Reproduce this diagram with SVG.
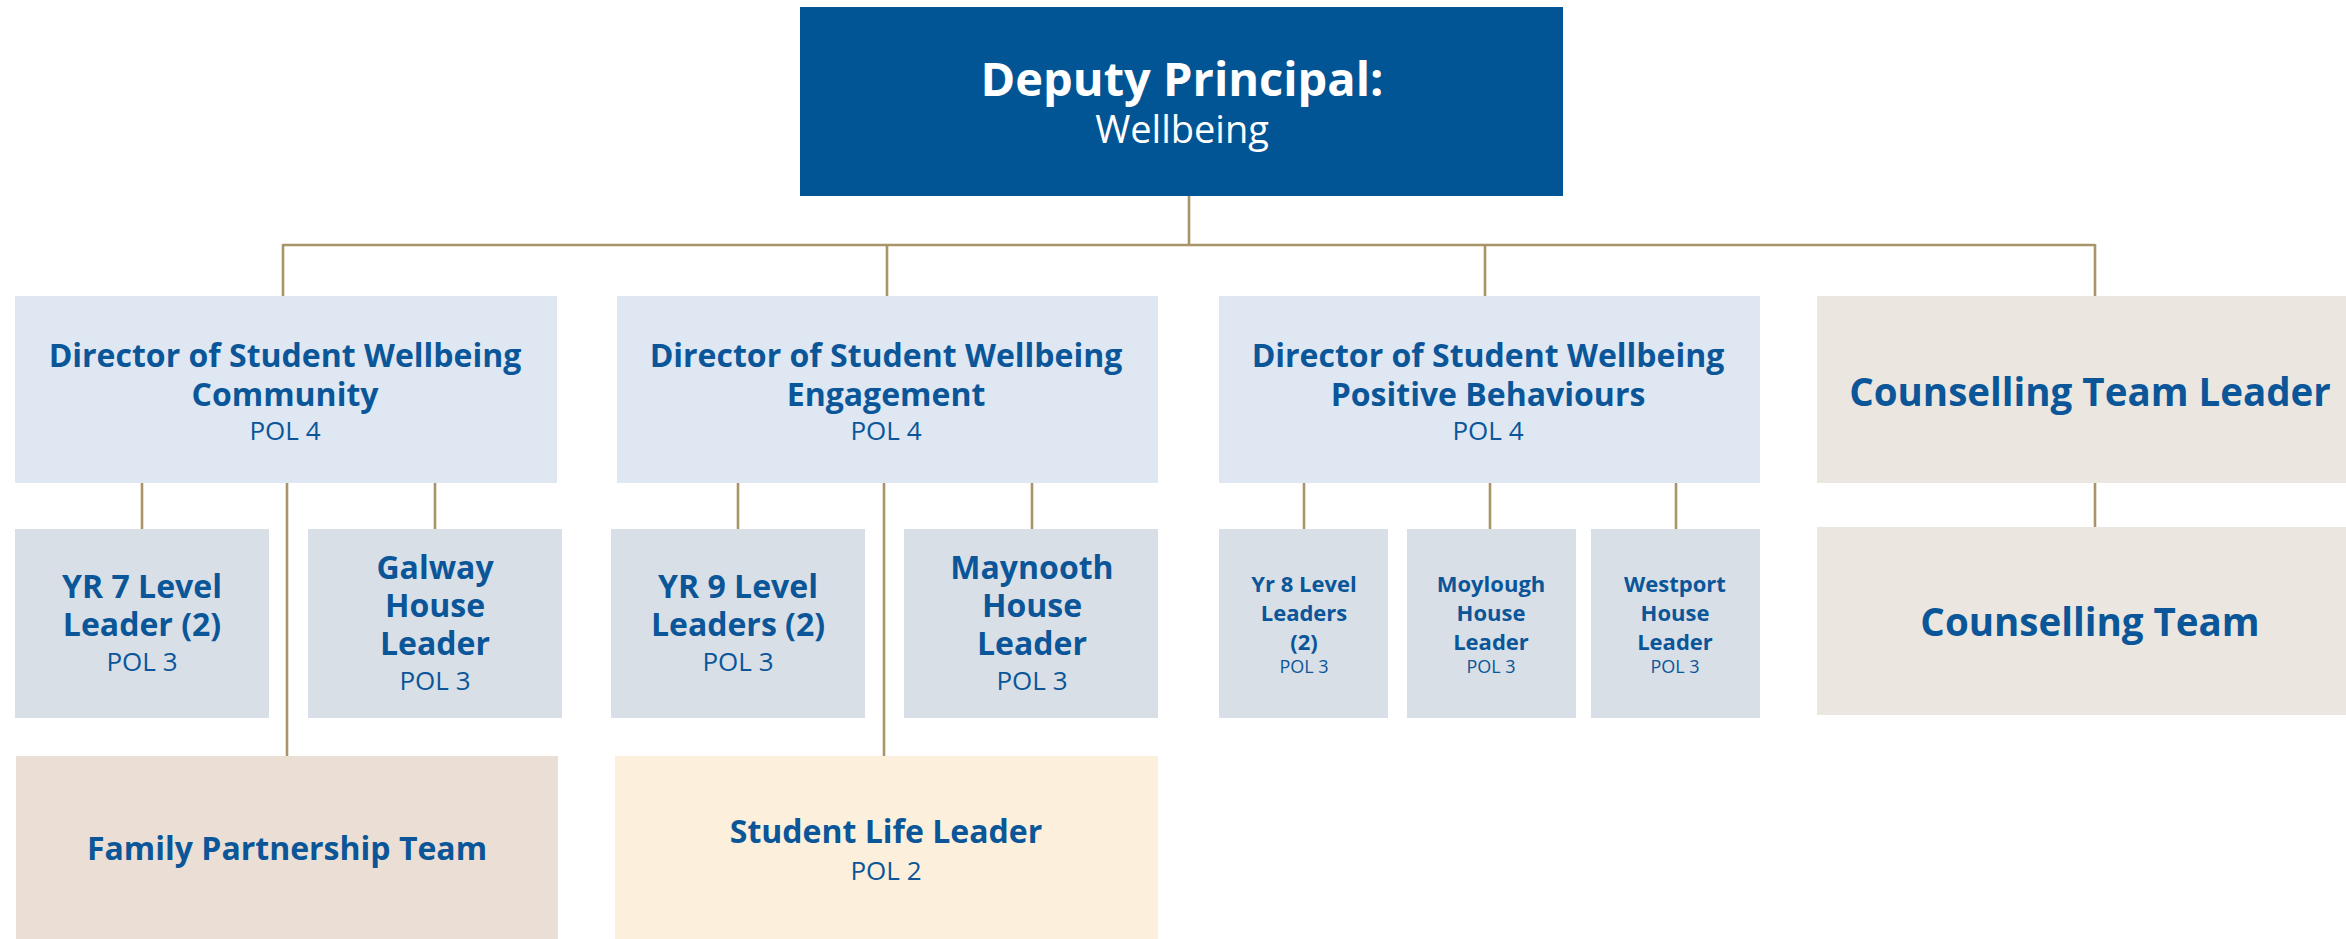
<svg xmlns="http://www.w3.org/2000/svg" width="2346" height="939" viewBox="0 0 2346 939">
<style>
text{font-family:"Open Sans","Liberation Sans",sans-serif;text-anchor:middle;fill:#0A5699}
.b{font-weight:700;font-size:32px}
.r{font-weight:400;font-size:26px}
.s{font-weight:700;font-size:22px}
.sr{font-weight:400;font-size:18px}
.w{fill:#FFFFFF}
.dir{fill:#DEE7F2}
.lvl{fill:#D9DFE6}
.cns{fill:#EBE6DF}
.big{font-weight:700;font-size:38.5px}
.conn line{stroke:#A89468;stroke-width:2.6}
</style>
<rect width="2346" height="939" fill="#FFFFFF"/>
<g class="conn" id="connectors">
<line x1="1189" y1="196" x2="1189" y2="245"/>
<line x1="283" y1="245" x2="2095" y2="245"/>
<line x1="283" y1="244" x2="283" y2="296"/>
<line x1="887" y1="244" x2="887" y2="296"/>
<line x1="1485" y1="244" x2="1485" y2="296"/>
<line x1="2095" y1="244" x2="2095" y2="296"/>
<line x1="142" y1="483" x2="142" y2="529"/>
<line x1="435" y1="483" x2="435" y2="529"/>
<line x1="287" y1="483" x2="287" y2="756"/>
<line x1="738" y1="483" x2="738" y2="529"/>
<line x1="1032" y1="483" x2="1032" y2="529"/>
<line x1="884" y1="483" x2="884" y2="756"/>
<line x1="1304" y1="483" x2="1304" y2="529"/>
<line x1="1490" y1="483" x2="1490" y2="529"/>
<line x1="1676" y1="483" x2="1676" y2="529"/>
<line x1="2095" y1="483" x2="2095" y2="527"/>
</g>
<g id="deputy">
<rect x="800" y="7" width="763" height="189" fill="#025595"/>
<text class="w" x="1182" y="96" style="font-weight:700;font-size:47px">Deputy Principal:</text>
<text class="w" x="1182" y="143" style="font-weight:400;font-size:38px">Wellbeing</text>
</g>
<g id="dir-community">
<rect class="dir" x="15" y="296" width="542" height="187"/>
<text class="b" x="285" y="367">Director of Student Wellbeing</text>
<text class="b" x="285" y="406">Community</text>
<text class="r" x="285" y="440">POL 4</text>
</g>
<g id="dir-engagement">
<rect class="dir" x="617" y="296" width="541" height="187"/>
<text class="b" x="886" y="367">Director of Student Wellbeing</text>
<text class="b" x="886" y="406">Engagement</text>
<text class="r" x="886" y="440">POL 4</text>
</g>
<g id="dir-behaviours">
<rect class="dir" x="1219" y="296" width="541" height="187"/>
<text class="b" x="1488" y="367">Director of Student Wellbeing</text>
<text class="b" x="1488" y="406">Positive Behaviours</text>
<text class="r" x="1488" y="440">POL 4</text>
</g>
<g id="counselling-leader">
<rect class="cns" x="1817" y="296" width="529" height="187"/>
<text class="big" x="2090" y="406">Counselling Team Leader</text>
</g>
<g id="yr7">
<rect class="lvl" x="15" y="529" width="254" height="189"/>
<text class="b" x="142" y="598">YR 7 Level</text>
<text class="b" x="142" y="636">Leader (2)</text>
<text class="r" x="142" y="671">POL 3</text>
</g>
<g id="galway">
<rect class="lvl" x="308" y="529" width="254" height="189"/>
<text class="b" x="435" y="579">Galway</text>
<text class="b" x="435" y="617">House</text>
<text class="b" x="435" y="655">Leader</text>
<text class="r" x="435" y="690">POL 3</text>
</g>
<g id="yr9">
<rect class="lvl" x="611" y="529" width="254" height="189"/>
<text class="b" x="738" y="598">YR 9 Level</text>
<text class="b" x="738" y="636">Leaders (2)</text>
<text class="r" x="738" y="671">POL 3</text>
</g>
<g id="maynooth">
<rect class="lvl" x="904" y="529" width="254" height="189"/>
<text class="b" x="1032" y="579">Maynooth</text>
<text class="b" x="1032" y="617">House</text>
<text class="b" x="1032" y="655">Leader</text>
<text class="r" x="1032" y="690">POL 3</text>
</g>
<g id="yr8">
<rect class="lvl" x="1219" y="529" width="169" height="189"/>
<text class="s" x="1304" y="592">Yr 8 Level</text>
<text class="s" x="1304" y="621">Leaders</text>
<text class="s" x="1304" y="650">(2)</text>
<text class="sr" x="1304" y="673">POL 3</text>
</g>
<g id="moylough">
<rect class="lvl" x="1407" y="529" width="169" height="189"/>
<text class="s" x="1491" y="592">Moylough</text>
<text class="s" x="1491" y="621">House</text>
<text class="s" x="1491" y="650">Leader</text>
<text class="sr" x="1491" y="673">POL 3</text>
</g>
<g id="westport">
<rect class="lvl" x="1591" y="529" width="169" height="189"/>
<text class="s" x="1675" y="592">Westport</text>
<text class="s" x="1675" y="621">House</text>
<text class="s" x="1675" y="650">Leader</text>
<text class="sr" x="1675" y="673">POL 3</text>
</g>
<g id="counselling-team">
<rect class="cns" x="1817" y="527" width="529" height="188"/>
<text class="big" x="2090" y="636">Counselling Team</text>
</g>
<g id="family">
<rect x="16" y="756" width="542" height="183" fill="#EBDED4"/>
<text class="b" x="287" y="860">Family Partnership Team</text>
</g>
<g id="student-life">
<rect x="615" y="756" width="543" height="183" fill="#FCF0DD"/>
<text class="b" x="886" y="843">Student Life Leader</text>
<text class="r" x="886" y="880">POL 2</text>
</g>
</svg>
